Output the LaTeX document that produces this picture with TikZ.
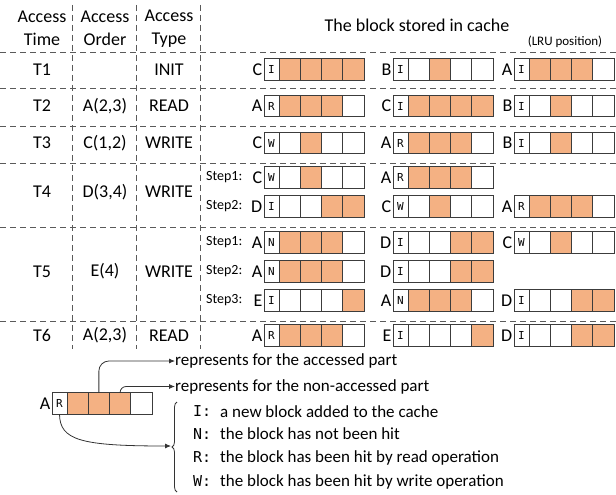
\documentclass[tikz,border=0pt]{standalone}
\usepackage{fontspec}
\setmainfont{Carlito}
\setmonofont{DejaVu Sans Mono}
\usetikzlibrary{positioning}
\usetikzlibrary{arrows.meta}
\usetikzlibrary{decorations.pathreplacing}
\definecolor{acc}{RGB}{244,177,131}
\colorlet{non}{white}
\definecolor{rule}{RGB}{90,90,90}
\definecolor{edge}{RGB}{60,60,60}

\tikzset{
  sep/.style={rule, dash pattern=on 6pt off 4pt, line width=0.9pt},
  cell/.style={draw=edge, line width=0.9pt, minimum width=21.25pt, minimum height=21.5pt,
               inner sep=0pt, outer sep=0pt, anchor=west},
  flag/.style={cell, minimum width=15pt, fill=white, font=\fontsize{11}{11}\ttfamily},
  owner/.style={anchor=east, inner sep=1.5pt, font=\fontsize{18}{18}\selectfont},
  stepname/.style={anchor=west, inner sep=0pt, font=\fontsize{14}{14}\selectfont},
  head/.style={align=center, font=\fontsize{18}{23}\selectfont},
  txt/.style={font=\fontsize{18}{18}\selectfont},
  note/.style={anchor=west, inner sep=0pt, font=\fontsize{17}{17}\selectfont},
  key/.style={anchor=west, inner sep=0pt, font=\fontsize{15}{15}\ttfamily},
  tip/.style={-{Latex[length=6pt,width=5pt]}, line width=0.8pt, black!80},
}

% a cached block: name, west point, owner, flag, fills of the four parts
\newcommand{\blk}[5]{%
  \node[flag] (#1) at (#2) {#4};
  \node[owner] (#1n) at (#1.west) {#3};
  \foreach \c [count=\i] in {#5}
    \node[cell, fill=\c, xshift={(\i-1)*21.25pt}] (#1c\i) at (#1.east) {};
}

\begin{document}
\begin{tikzpicture}[x=1pt, y=-1pt]
  \useasboundingbox (0,0) rectangle (616,495);

  % table rules
  \foreach \y in {52,88,126,163,227,321}
    \draw[sep] (0,\y) -- (616,\y);
  \foreach \x in {72,136,200}
    \draw[sep] (\x,5) -- (\x,349);

  % header
  \node[head] (htime) at (42,28.5) {Access\\Time};
  \node[head] (horder) at (105,28.5) {Access\\Order};
  \node[head] (htype) at (169,28.5) {Access\\Type};
  \node[txt] (hcache) at (417,25) {The block stored in cache};
  \node[font=\fontsize{13}{13}\selectfont] (lru) at (565,42) {(LRU position)};

  % T1
  \node[txt] (t1) at (42,69.5) {T1};
  \node[txt] (t1y) at (169,69.5) {INIT};
  \blk{ta}{264,69.5}{C}{I}{acc,acc,acc,acc}
  \blk{tb}{393,69.5}{B}{I}{non,acc,non,non}
  \blk{tc}{514,69.5}{A}{I}{acc,acc,acc,non}

  % T2
  \node[txt] (t2) at (42,106) {T2};
  \node[txt] (t2o) at (105,106) {A(2,3)};
  \node[txt] (t2y) at (169,106) {READ};
  \blk{ua}{264,106}{A}{R}{acc,acc,acc,non}
  \blk{ub}{393,106}{C}{I}{acc,acc,acc,acc}
  \blk{uc}{514,106}{B}{I}{non,acc,non,non}

  % T3
  \node[txt] (t3) at (42,143) {T3};
  \node[txt] (t3o) at (105,143) {C(1,2)};
  \node[txt] (t3y) at (169,143) {WRITE};
  \blk{va}{264,143}{C}{W}{non,acc,non,non}
  \blk{vb}{393,143}{A}{R}{acc,acc,acc,non}
  \blk{vc}{514,143}{B}{I}{non,acc,non,non}

  % T4
  \node[txt] (t4) at (42,192) {T4};
  \node[txt] (t4o) at (105,192) {D(3,4)};
  \node[txt] (t4y) at (169,192) {WRITE};
  \node[stepname] (s41) at (206,177.5) {Step1:};
  \blk{wa}{264,177.5}{C}{W}{non,acc,non,non}
  \blk{wb}{393,177.5}{A}{R}{acc,acc,acc,non}
  \node[stepname] (s42) at (206,206.5) {Step2:};
  \blk{xa}{264,206.5}{D}{I}{non,non,acc,acc}
  \blk{xb}{393,206.5}{C}{W}{non,acc,non,non}
  \blk{xc}{514,206.5}{A}{R}{acc,acc,acc,non}

  % T5
  \node[txt] (t5) at (42,271.5) {T5};
  \node[txt] (t5o) at (105,271.5) {E(4)};
  \node[txt] (t5y) at (169,271.5) {WRITE};
  \node[stepname] (s51) at (206,242.5) {Step1:};
  \blk{ya}{264,242.5}{A}{N}{acc,acc,acc,non}
  \blk{yb}{393,242.5}{D}{I}{non,non,acc,acc}
  \blk{yc}{514,242.5}{C}{W}{non,acc,non,non}
  \node[stepname] (s52) at (206,271.5) {Step2:};
  \blk{za}{264,271.5}{A}{N}{acc,acc,acc,non}
  \blk{zb}{393,271.5}{D}{I}{non,non,acc,acc}
  \node[stepname] (s53) at (206,300.5) {Step3:};
  \blk{qa}{264,300.5}{E}{I}{non,non,non,acc}
  \blk{qb}{393,300.5}{A}{N}{acc,acc,acc,non}
  \blk{qc}{514,300.5}{D}{I}{non,non,acc,acc}

  % T6
  \node[txt] (t6) at (42,335.5) {T6};
  \node[txt] (t6o) at (105,335.5) {A(2,3)};
  \node[txt] (t6y) at (169,335.5) {READ};
  \blk{ra}{264,335.5}{A}{R}{acc,acc,acc,non}
  \blk{rb}{393,335.5}{E}{I}{non,non,non,acc}
  \blk{rc}{514,335.5}{D}{I}{non,non,acc,acc}

  % legend
  \blk{lg}{52,403.5}{A}{R}{acc,acc,acc,non}
  \node[note] (accd) at (175,361) {represents for the accessed part};
  \node[note] (nonacc) at (175,386.5) {represents for the non-accessed part};
  \draw[tip, rounded corners=10pt] (lg.north -| lgc2.north) ++(0,0) |- (accd.west);
  \draw[tip, rounded corners=6pt] (lgc3.north) |- (nonacc.west);

  \node[key] (ki) at (193,411.5) {I:};
  \node[key] (kn) at (193,434) {N:};
  \node[key] (kr) at (193,457.5) {R:};
  \node[key] (kw) at (193,481.5) {W:};
  \node[note] (ti) at (220,411.5) {a new block added to the cache};
  \node[note] (tn) at (220,434) {the block has not been hit};
  \node[note] (tr) at (220,457.5) {the block has been hit by read operation};
  \node[note] (tw) at (220,481.5) {the block has been hit by write operation};
  \draw[line width=0.8pt, black!80, decorate, decoration={brace, amplitude=5pt}]
    (177,492) -- (177,402) coordinate[midway] (brc);
  \coordinate (brtip) at (171,446);
  \draw[tip] (lg.south) .. controls (60,440) and (80,446) .. (brtip);
\end{tikzpicture}
\end{document}
